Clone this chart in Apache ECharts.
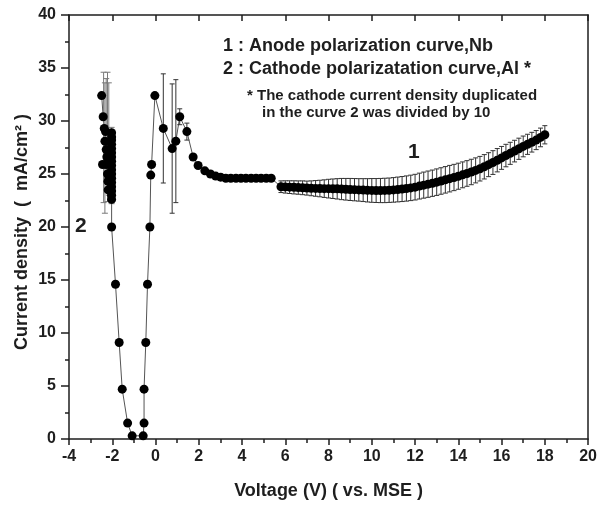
<!DOCTYPE html>
<html><head><meta charset="utf-8">
<script src="https://cdn.jsdelivr.net/npm/echarts@6/dist/echarts.min.js"></script>
<style>html,body{margin:0;padding:0;background:#fff}#c{width:600px;height:505px}</style>
</head><body><div id="c"></div>
<script>
// ---- Curve 2: cathode polarization, Al (current density /10) ----
const cathodeV = [-2.49, -2.42, -2.37, -2.31, -2.34, -2.28, -2.25, -2.45, -2.29, -2.22, -2.20, -2.19,
  -2.03, -2.03, -2.03, -2.03, -2.03, -2.03, -2.03, -2.03, -2.03, -2.03, -2.03, -2.03, -2.03, -2.03, -2.03, -2.03, -2.03,
  -2.03, -1.85, -1.68, -1.54, -1.29, -1.08, -0.57, -0.53, -0.53, -0.45, -0.37, -0.26, -0.22, -0.18];
const cathodeJ = [32.4, 30.4, 29.3, 29.0, 28.1, 27.3, 26.6, 25.9, 25.9, 25.0, 24.3, 23.5,
  28.9, 28.5, 28.2, 27.8, 27.4, 27.0, 26.6, 26.2, 25.8, 25.4, 25.0, 24.6, 24.2, 23.8, 23.4, 23.0, 22.6,
  20.0, 14.6, 9.1, 4.7, 1.5, 0.3, 0.3, 1.5, 4.7, 9.1, 14.6, 20.0, 24.9, 25.9];
// error bars around the cathode cluster
const clusterBarV    = [-2.40, -2.34, -2.28, -2.22, -2.16, -2.03];
const clusterBarLow  = [22.3, 21.3, 24.3, 22.4, 23.0, 22.2];
const clusterBarHigh = [34.6, 33.6, 34.0, 34.6, 33.6, 29.4];

// ---- Curve 1: anode polarization, Nb ----
const anodeV = [-0.03, 0.36, 0.77, 0.94, 1.12, 1.45, 1.74, 1.97, 2.28, 2.54, 2.78, 3.01, 3.25, 3.48, 3.72, 3.95,
  4.18, 4.42, 4.65, 4.88, 5.12, 5.35,
  5.8, 6.0, 6.2, 6.4, 6.6, 6.8, 7.0, 7.2, 7.4, 7.6, 7.8, 8.0, 8.2, 8.4, 8.6, 8.8, 9.0, 9.2, 9.4, 9.6, 9.8,
  10.0, 10.2, 10.4, 10.6, 10.8, 11.0, 11.2, 11.4, 11.6, 11.8, 12.0, 12.2, 12.4, 12.6, 12.8, 13.0, 13.2, 13.4,
  13.6, 13.8, 14.0, 14.2, 14.4, 14.6, 14.8, 15.0, 15.2, 15.4, 15.6, 15.8, 16.0, 16.2, 16.4, 16.6, 16.8, 17.0,
  17.2, 17.4, 17.6, 17.8, 18.0];
const anodeJ = [32.4, 29.3, 27.4, 28.1, 30.4, 29.0, 26.6, 25.8, 25.3, 25.0, 24.8, 24.7, 24.6, 24.6, 24.6, 24.6,
  24.6, 24.6, 24.6, 24.6, 24.6, 24.6,
  23.80, 23.78, 23.76, 23.74, 23.72, 23.70, 23.67, 23.65, 23.64, 23.63, 23.62, 23.62, 23.61, 23.60, 23.58, 23.56,
  23.54, 23.52, 23.50, 23.48, 23.46, 23.45, 23.44, 23.44, 23.45, 23.47, 23.50, 23.54, 23.58, 23.63, 23.69, 23.76,
  23.86, 23.95, 24.04, 24.13, 24.23, 24.34, 24.45, 24.56, 24.67, 24.79, 24.92, 25.05, 25.19, 25.34, 25.50, 25.68,
  25.88, 26.08, 26.30, 26.52, 26.74, 26.95, 27.16, 27.38, 27.60, 27.80, 28.00, 28.20, 28.45, 28.70];
const anodeErr = [null, 5.15, 6.1, 5.8, 0.75, 0.8, null, null, null, null, null, null, null, null, null, null,
  null, null, null, null, null, null,
  0.55, 0.58, 0.60, 0.62, 0.63, 0.65, 0.66, 0.70, 0.74, 0.78, 0.83, 0.88, 0.92, 0.96, 1.00, 1.02,
  1.04, 1.05, 1.06, 1.08, 1.10, 1.12, 1.13, 1.14, 1.15, 1.15, 1.16, 1.17, 1.18, 1.19, 1.20, 1.21,
  1.22, 1.23, 1.24, 1.24, 1.25, 1.25, 1.25, 1.25, 1.24, 1.23, 1.22, 1.21, 1.20, 1.18, 1.16, 1.15,
  1.13, 1.12, 1.10, 1.08, 1.06, 1.04, 1.02, 1.00, 0.98, 0.95, 0.93, 0.90, 0.88, 0.86];

// axis ticks
const xMin = -4, xMax = 20, xStep = 2;
const yMin = 0, yMax = 40, yStep = 5;
const xTitle = 'Voltage (V) ( vs. MSE )';
const yTitle = 'Current density  (  mA/cm² )';

const FONT = '"Liberation Sans", Arial, Helvetica, sans-serif';
const INK = '#1e1e1e';

const cathodePts = cathodeV.map((v, i) => [v, cathodeJ[i]]);
const anodePts = anodeV.map((v, i) => [v, anodeJ[i]]);
const anodeBars = [];
anodeV.forEach((v, i) => { if (anodeErr[i] != null) anodeBars.push([v, anodeJ[i] - anodeErr[i], anodeJ[i] + anodeErr[i]]); });
const clusterBars = clusterBarV.map((v, i) => [v, clusterBarLow[i], clusterBarHigh[i]]);

function barRenderer(color, capHalf) {
  return function (params, api) {
    const x = api.value(0), lo = api.value(1), hi = api.value(2);
    const a = api.coord([x, hi]), b = api.coord([x, lo]);
    const st = { stroke: color, lineWidth: 1 };
    return { type: 'group', children: [
      { type: 'line', shape: { x1: a[0], y1: a[1], x2: b[0], y2: b[1] }, style: st },
      { type: 'line', shape: { x1: a[0] - capHalf, y1: a[1], x2: a[0] + capHalf, y2: a[1] }, style: st },
      { type: 'line', shape: { x1: b[0] - capHalf, y1: b[1], x2: b[0] + capHalf, y2: b[1] }, style: st }
    ]};
  };
}

const chart = echarts.init(document.getElementById('c'), null, { renderer: 'canvas' });
const axisLine = { show: true, onZero: false, lineStyle: { color: INK, width: 1.5 } };
chart.setOption({
  animation: false,
  backgroundColor: '#fff',
  grid: { left: 69, right: 11, top: 15, bottom: 63, containLabel: false },
  xAxis: [{
    type: 'value', min: xMin, max: xMax, interval: xStep,
    axisLine, splitLine: { show: false },
    axisTick: { show: true, length: 6, lineStyle: { color: INK, width: 1.5 } },
    minorTick: { show: true, splitNumber: 2, length: 4, lineStyle: { color: INK, width: 1.5 } },
    axisLabel: { margin: 10, color: INK, fontSize: 16, fontWeight: 'bold', fontFamily: FONT },
    name: xTitle, nameLocation: 'middle', nameGap: 43, nameMoveOverlap: false,
    nameTextStyle: { color: INK, fontSize: 18, fontWeight: 'bold', fontFamily: FONT }
  }, {
    type: 'value', position: 'top', min: xMin, max: xMax, interval: xStep,
    axisLine, splitLine: { show: false },
    axisTick: { show: true, inside: true, length: 6, lineStyle: { color: INK, width: 1.5 } },
    axisLabel: { show: false }
  }],
  yAxis: [{
    type: 'value', min: yMin, max: yMax, interval: yStep,
    axisLine, splitLine: { show: false },
    axisTick: { show: true, length: 8, lineStyle: { color: INK, width: 1.5 } },
    minorTick: { show: true, splitNumber: 2, length: 4, lineStyle: { color: INK, width: 1.5 } },
    axisLabel: { margin: 13, color: INK, fontSize: 16, fontWeight: 'bold', fontFamily: FONT }
  }, {
    type: 'value', position: 'right', min: yMin, max: yMax, interval: yStep,
    axisLine, splitLine: { show: false }, axisTick: { show: false }, axisLabel: { show: false }
  }],
  series: [
    { type: 'line', name: 'trace', data: cathodePts.concat(anodePts), showSymbol: false, symbol: 'none',
      lineStyle: { color: '#555', width: 1 }, z: 2, silent: true },
    { type: 'custom', name: 'cluster error', data: clusterBars, renderItem: barRenderer('#7a7a7a', 3), z: 3, silent: true },
    { type: 'custom', name: 'anode error', data: anodeBars, renderItem: barRenderer('#333', 2.5), z: 3, silent: true },
    { type: 'scatter', name: '2 : Cathode polarizatation curve,Al', data: cathodePts, symbol: 'circle', symbolSize: 9,
      itemStyle: { color: '#000', opacity: 1 }, z: 4, silent: true },
    { type: 'scatter', name: '1 : Anode polarization curve,Nb', data: anodePts, symbol: 'circle', symbolSize: 9,
      itemStyle: { color: '#000', opacity: 1 }, z: 4, silent: true }
  ],
  graphic: [
    { type: 'text', x: 22, y: 232, rotation: Math.PI / 2,
      style: { text: yTitle, fill: INK, font: 'bold 18px ' + FONT, align: 'center', verticalAlign: 'middle' } },
    { type: 'text', left: 223, top: 37, style: { text: '1 : Anode polarization curve,Nb', fill: INK, font: 'bold 18px ' + FONT } },
    { type: 'text', left: 223, top: 60, style: { text: '2 : Cathode polarizatation curve,Al *', fill: INK, font: 'bold 18px ' + FONT } },
    { type: 'text', left: 247, top: 88, style: { text: '* The cathode current density duplicated', fill: INK, font: 'bold 15px ' + FONT } },
    { type: 'text', left: 262, top: 105, style: { text: 'in the curve 2 was divided by 10', fill: INK, font: 'bold 15px ' + FONT } },
    { type: 'text', left: 408, top: 142, style: { text: '1', fill: INK, font: 'bold 21px ' + FONT } },
    { type: 'text', left: 75, top: 216, style: { text: '2', fill: INK, font: 'bold 21px ' + FONT } }
  ]
});
</script>
</body></html>
